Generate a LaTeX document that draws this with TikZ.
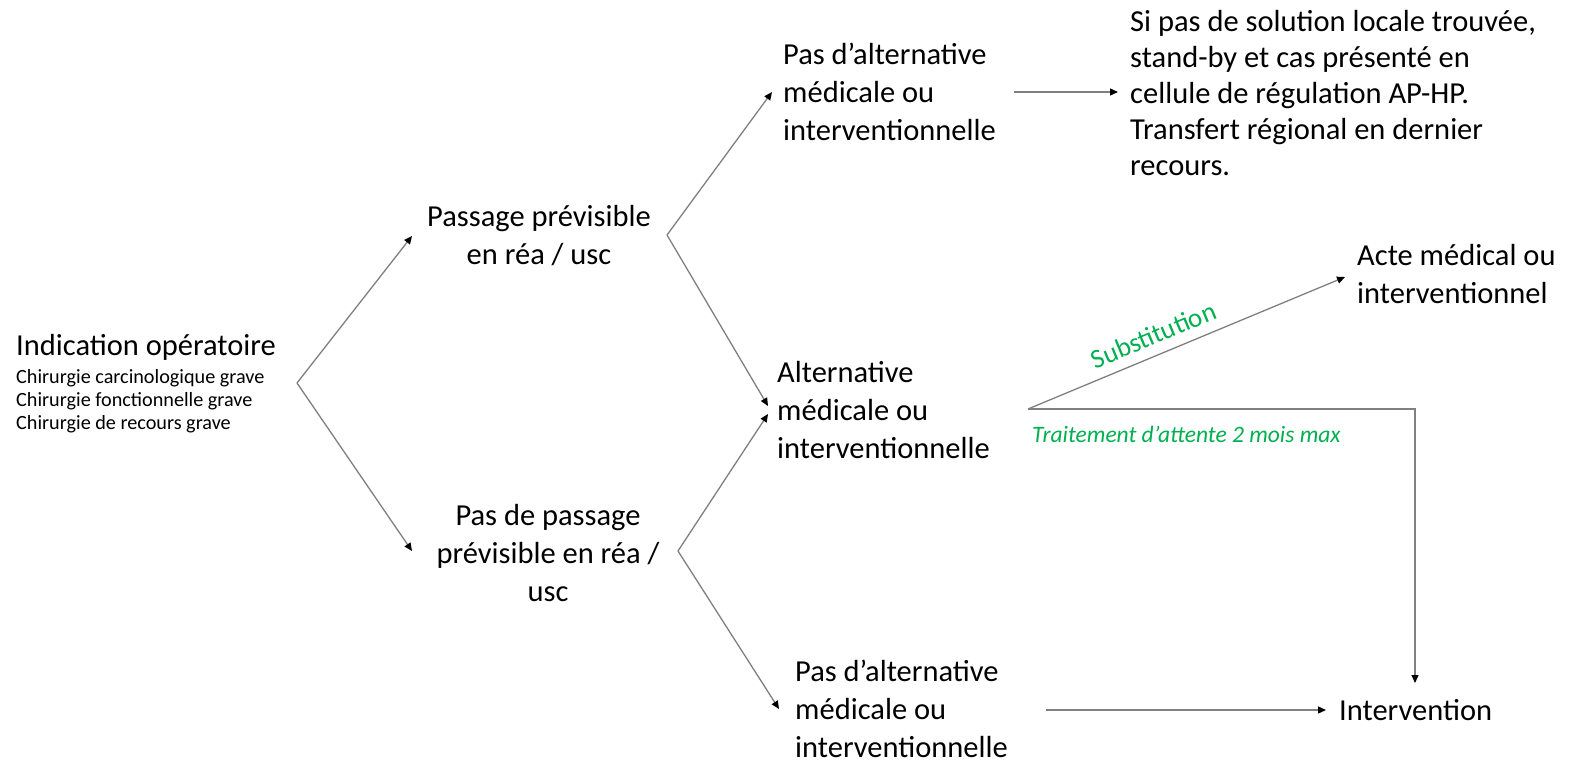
\documentclass[tikz,border=0pt]{standalone}
\usepackage{fontspec}
\setmainfont{Carlito}
\usetikzlibrary{arrows.meta}
\definecolor{linegray}{HTML}{808080}
\definecolor{lblgreen}{HTML}{00B050}
\tikzset{
  txt/.style={inner sep=0pt, font=\fontsize{30.5}{38}\selectfont},
  small/.style={inner sep=0pt, font=\fontsize{20.2}{23}\selectfont, align=left},
  conn/.style={draw=linegray, line width=1.3pt, -{Triangle[length=8pt,width=7pt,color=black]}},
  glabel/.style={text=lblgreen, font=\fontsize{23.5}{28}\selectfont\itshape, inner sep=0pt},
  slabel/.style={text=lblgreen, font=\fontsize{27}{30}\selectfont, inner sep=0pt}
}
\begin{document}
\begin{tikzpicture}[x=1pt,y=-1pt]
\path[use as bounding box, fill=white] (0,0) rectangle (1571,760);

% nodes
\node[txt, anchor=west] (ind) at (16,347) {Indication opératoire};
\node[small, anchor=west] (indsub) at (16,401) {Chirurgie carcinologique grave\\Chirurgie fonctionnelle grave\\Chirurgie de recours grave};

\node[txt, align=center] (pp) at (539,235.5) {Passage prévisible\\en réa / usc};
\node[txt, align=center] (npp) at (548,553) {Pas de passage\\prévisible en réa /\\usc};

\node[txt, align=left, anchor=west] (pa1) at (783,92) {Pas d’alternative\\médicale ou\\interventionnelle};
\node[txt, align=left, anchor=west, font=\fontsize{30.5}{36}\selectfont] (sol) at (1130,93) {Si pas de solution locale trouvée,\\stand-by et cas présenté en\\cellule de régulation AP-HP.\\Transfert régional en dernier\\recours.};

\node[txt, align=left, anchor=west] (alt) at (777,410) {Alternative\\médicale ou\\interventionnelle};
\node[txt, align=left, anchor=west] (acte) at (1357,274) {Acte médical ou\\interventionnel};

\node[txt, align=left, anchor=west] (pa2) at (795,709) {Pas d’alternative\\médicale ou\\interventionnelle};
\node[txt, anchor=west] (interv) at (1339,710) {Intervention};

% fork points
\coordinate (f0) at (297,383);
\coordinate (f1) at (667,235);
\coordinate (f2) at (678,551);
\coordinate (f3) at (1028,409);
\coordinate (corner) at (1415,409);

\coordinate (ppin) at (412,236);
\coordinate (nppin) at (412,551);
\coordinate (pa1in) at (772,92);
\coordinate (altin1) at (768,406);
\coordinate (altin2) at (768,414);
\coordinate (pa2in) at (779,709);
\coordinate (pa1out) at (1014,92);
\coordinate (solin) at (1118,92);
\coordinate (actein) at (1345,277);
\coordinate (intervtop) at (1415,683);
\coordinate (pa2out) at (1046,710);
\coordinate (intervin) at (1326,710);

% connectors
\draw[conn] (f0) -- (ppin);
\draw[conn] (f0) -- (nppin);
\draw[conn] (f1) -- (pa1in);
\draw[conn] (f1) -- (altin1);
\draw[conn] (f2) -- (altin2);
\draw[conn] (f2) -- (pa2in);
\draw[conn] (pa1out) -- (solin);
\draw[conn] (f3) -- node[slabel, pos=0.42, sloped, above=10pt] (subst) {Substitution} (actein);
\draw[conn] (f3) -- (corner) -- (intervtop);
\draw[conn] (pa2out) -- (intervin);

\node[glabel, anchor=west] (attente) at (1032,434) {Traitement d’attente 2 mois max};
\end{tikzpicture}
\end{document}
